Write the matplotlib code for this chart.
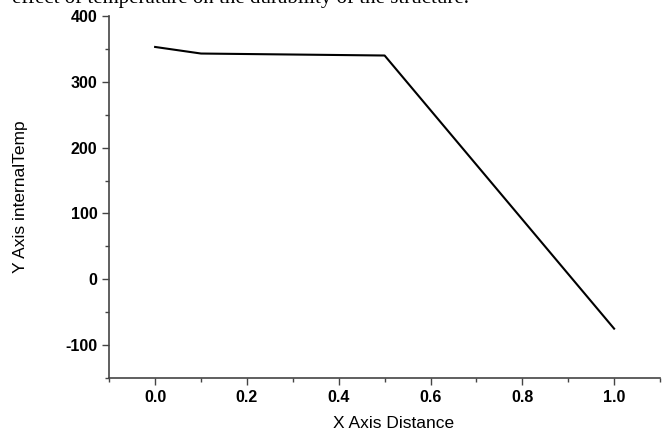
import matplotlib
matplotlib.use('Agg')
import matplotlib.pyplot as plt
from matplotlib.ticker import MultipleLocator

# values
distance = [0.0, 0.1, 0.5, 1.0]
internal_temp = [353, 343, 340, -75]

xticks = [0.0, 0.2, 0.4, 0.6, 0.8, 1.0]
yticks = [-100, 0, 100, 200, 300, 400]


def main():
  plt.rcParams['font.family'] = ['Liberation Sans', 'DejaVu Sans']
  fig = plt.figure(figsize=(6.66, 4.33), dpi=100)
  ax = fig.add_axes([0.164, 0.127, 0.827, 0.836])

  ax.plot(distance, internal_temp, color='black', lw=1.5)

  ax.set_xlim(-0.1, 1.1)
  ax.set_ylim(-150, 400)
  ax.set_xticks(xticks)
  ax.set_yticks(yticks)
  ax.set_xticklabels(['%.1f' % t for t in xticks], fontweight='bold', fontsize=11.5)
  ax.set_yticklabels([str(t) for t in yticks], fontweight='bold', fontsize=11.5)
  ax.xaxis.set_minor_locator(MultipleLocator(0.1))
  ax.yaxis.set_minor_locator(MultipleLocator(50))
  ax.tick_params(which='major', direction='out', length=5, width=1, color='#444444')
  ax.tick_params(which='minor', direction='out', length=3, width=1, color='#444444')

  for s in ['top', 'right']:
    ax.spines[s].set_visible(False)
  for s in ['left', 'bottom']:
    ax.spines[s].set_color('#444444')
    ax.spines[s].set_linewidth(1.2)

  ax.set_xlabel('X Axis Distance', fontsize=12.5, labelpad=8)
  ax.xaxis.label.set_x(0.517)
  ax.set_ylabel('Y Axis internalTemp', fontsize=12.5, labelpad=27)

  # cropped caption line of the source document
  fig.text(0.018, 1.004, 'effect of temperature on the durability of the structure.',
           family='Liberation Serif', fontsize=15, va='center', ha='left')

  fig.savefig('out.png', dpi=100)


if __name__ == "__main__":
  main()
